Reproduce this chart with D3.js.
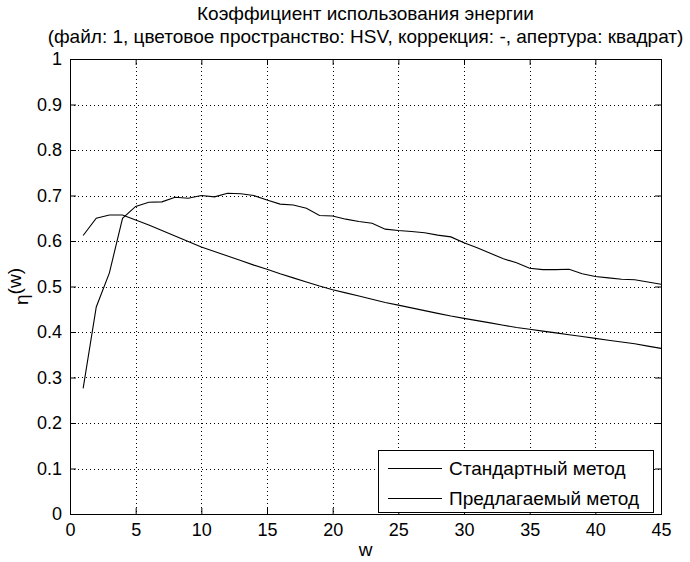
<!DOCTYPE html>
<html>
<head>
<meta charset="utf-8">
<script src="https://cdn.jsdelivr.net/npm/d3@7"></script>
<style>
  body { margin: 0; background: #fff; }
  svg { display: block; font-family: "Liberation Sans", Arial, sans-serif; }
  .grid line { stroke: #000; stroke-dasharray: 1,3; stroke-width: 1; shape-rendering: crispEdges; }
</style>
</head>
<body>
<svg width="690" height="562"></svg>
<script>
"use strict";

const w = d3.range(1, 46);
const standard = [0.612, 0.650, 0.657, 0.657, 0.646, 0.635, 0.623, 0.611, 0.599, 0.587,
    0.577, 0.567, 0.557, 0.547, 0.538, 0.528, 0.519, 0.510, 0.501, 0.493,
    0.486, 0.479, 0.472, 0.465, 0.459, 0.453, 0.447, 0.441, 0.435, 0.430,
    0.425, 0.420, 0.415, 0.410, 0.406, 0.402, 0.398, 0.394, 0.390, 0.386,
    0.382, 0.378, 0.374, 0.369, 0.364];
const proposed = [0.276, 0.455, 0.530, 0.650, 0.676, 0.685, 0.686, 0.696, 0.694, 0.700,
    0.697, 0.705, 0.704, 0.700, 0.690, 0.681, 0.679, 0.672, 0.656, 0.655,
    0.648, 0.643, 0.639, 0.626, 0.623, 0.621, 0.618, 0.613, 0.609, 0.596,
    0.585, 0.573, 0.561, 0.552, 0.540, 0.537, 0.537, 0.538, 0.528, 0.522,
    0.519, 0.516, 0.515, 0.510, 0.505];
const seriesNames = ["Стандартный метод", "Предлагаемый метод"];
const xTicks = d3.range(0, 46, 5);
const yTicks = d3.range(0, 11).map(i => i / 10);
const titleLines = ["Коэффициент использования энергии",
    "(файл: 1, цветовое пространство: HSV, коррекция: -, апертура: квадрат)"];

function drawChart() {
    const svg = d3.select("svg");
    const left = 70, top = 59, width = 591, height = 455;
    const fontSize = 19, tickFont = 18;

    const x = d3.scaleLinear().domain([0, 45]).range([left, left + width]);
    const y = d3.scaleLinear().domain([0, 1]).range([top + height, top]);

    // grid
    const grid = svg.append("g").attr("class", "grid");
    grid.selectAll(".gx")
        .data(xTicks.slice(1, -1))
        .enter().append("line")
        .attr("x1", d => Math.round(x(d)) + 0.5)
        .attr("x2", d => Math.round(x(d)) + 0.5)
        .attr("y1", top)
        .attr("y2", top + height);
    grid.selectAll(".gy")
        .data(yTicks.slice(1, -1))
        .enter().append("line")
        .attr("y1", d => Math.round(y(d)) + 0.5)
        .attr("y2", d => Math.round(y(d)) + 0.5)
        .attr("x1", left)
        .attr("x2", left + width);

    // axes (ticks inward on all four sides)
    const tick = 6;
    svg.append("g")
        .attr("transform", `translate(0,${top + height})`)
        .call(d3.axisBottom(x).tickValues(xTicks).tickSizeInner(-tick).tickSizeOuter(0).tickPadding(9));
    svg.append("g")
        .attr("transform", `translate(0,${top})`)
        .call(d3.axisTop(x).tickValues(xTicks).tickSizeInner(-tick).tickSizeOuter(0).tickFormat(""));
    svg.append("g")
        .attr("transform", `translate(${left},0)`)
        .call(d3.axisLeft(y).tickValues(yTicks).tickSizeInner(-tick).tickSizeOuter(0).tickPadding(8)
            .tickFormat(d => d3.format("")(+d.toFixed(1))));
    svg.append("g")
        .attr("transform", `translate(${left + width},0)`)
        .call(d3.axisRight(y).tickValues(yTicks).tickSizeInner(-tick).tickSizeOuter(0).tickFormat(""));

    svg.selectAll(".tick text")
        .attr("font-size", tickFont)
        .attr("font-family", "Liberation Sans, Arial, sans-serif")
        .attr("fill", "#000");
    svg.selectAll(".domain").attr("stroke", "#000");

    svg.append("rect")
        .attr("x", left + 0.5).attr("y", top + 0.5)
        .attr("width", width).attr("height", height)
        .attr("fill", "none").attr("stroke", "#000");

    // lines
    const line = d3.line().x((d, i) => x(w[i])).y(d => y(d));
    [standard, proposed].forEach(s => {
        svg.append("path")
            .datum(s)
            .attr("d", line)
            .attr("fill", "none")
            .attr("stroke", "#000")
            .attr("stroke-width", 1.1);
    });

    // title
    svg.selectAll(".title")
        .data(titleLines)
        .enter().append("text")
        .attr("class", "title")
        .attr("x", left + width / 2)
        .attr("y", (d, i) => 20 + i * 23)
        .attr("text-anchor", "middle")
        .attr("font-size", fontSize)
        .text(d => d);

    // axis labels
    svg.append("text")
        .attr("x", left + width / 2)
        .attr("y", 556)
        .attr("text-anchor", "middle")
        .attr("font-size", fontSize)
        .text("w");

    const yl = svg.append("text")
        .attr("transform", `translate(28,${top + height / 2}) rotate(-90)`)
        .attr("text-anchor", "middle")
        .attr("font-size", fontSize);
    yl.append("tspan").text("η");
    yl.append("tspan").attr("dy", -7).text("(w)");

    // legend
    const lx = 378, ly = 450, lw = 275, lh = 62;
    svg.append("rect")
        .attr("x", lx + 0.5).attr("y", ly + 0.5)
        .attr("width", lw).attr("height", lh)
        .attr("fill", "#fff").attr("stroke", "#000");
    const rows = svg.selectAll(".legend")
        .data(seriesNames)
        .enter().append("g")
        .attr("class", "legend")
        .attr("transform", (d, i) => `translate(${lx},${ly + 18 + i * 30})`);
    rows.append("line")
        .attr("x1", 10).attr("x2", 64)
        .attr("y1", 0.5).attr("y2", 0.5)
        .attr("stroke", "#000");
    rows.append("text")
        .attr("x", 71)
        .attr("y", 7)
        .attr("font-size", fontSize)
        .text(d => d);
}

drawChart();
</script>
</body>
</html>
